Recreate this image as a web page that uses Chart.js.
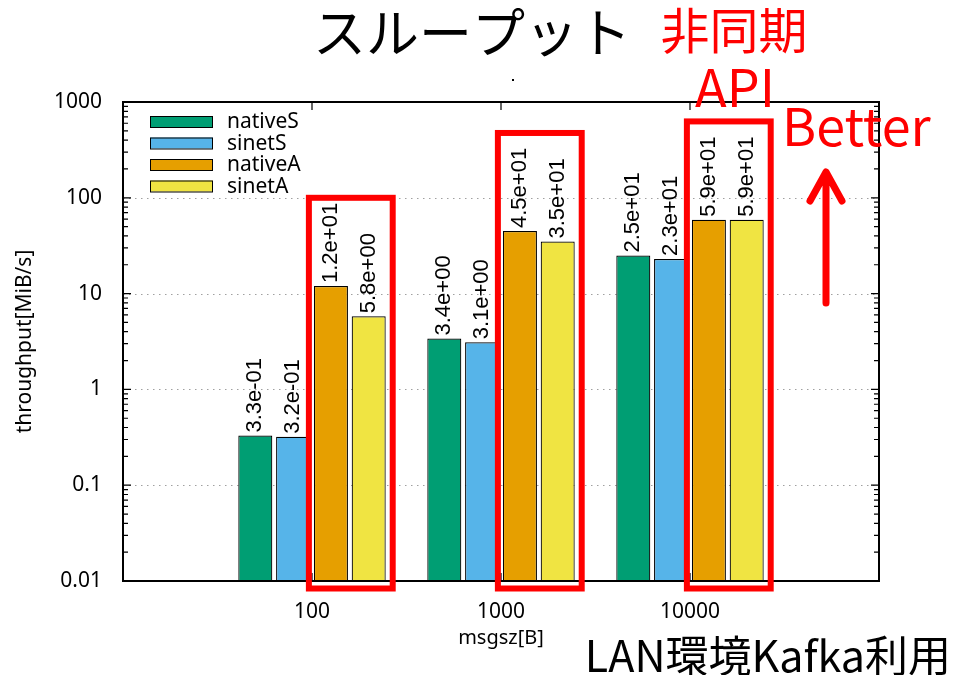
<!DOCTYPE html>
<html><head><meta charset="utf-8">
<script src="https://cdn.jsdelivr.net/npm/chart.js@4"></script>
<style>html,body{margin:0;padding:0;background:#fff}#wrap{width:960px;height:675px}</style>
</head><body><div id="wrap"><canvas id="c" width="960" height="675"></canvas></div>
<script>
// ---- data ----
const categories = ['', '100', '1000', '10000', ''];
const seriesNames = ['nativeS', 'sinetS', 'nativeA', 'sinetA'];
const nativeS = [null, 0.33, 3.4, 25, null];
const sinetS  = [null, 0.32, 3.1, 23, null];
const nativeA = [null, 12, 45, 59, null];
const sinetA  = [null, 5.8, 35, 59, null];
const yTickValues = [0.01, 0.1, 1, 10, 100, 1000];
const highlightTopValues = [null, 100, 475, 627, null]; // red box tops (value units)

const colors = ['#009e73', '#56b4e9', '#e69f00', '#f0e442'];
const seriesData = [nativeS, sinetS, nativeA, sinetA];

function fmtExp(v) {
  const s = v.toExponential(1).split('e');
  let e = parseInt(s[1], 10);
  const sign = e < 0 ? '-' : '+';
  e = Math.abs(e);
  return s[0] + 'e' + sign + (e < 10 ? '0' + e : String(e));
}

Chart.defaults.font.family = "'Noto Sans', sans-serif";
Chart.defaults.color = '#000';

const decor = {
  id: 'decor',
  beforeDatasetsDraw(chart) {
    const {ctx, chartArea: a, scales: {y}} = chart;
    ctx.save();
    ctx.strokeStyle = '#a0a0a0';
    ctx.lineWidth = 1;
    ctx.setLineDash([1.5, 4.5]);
    yTickValues.slice(1, -1).forEach(v => {
      const py = Math.round(y.getPixelForValue(v)) + 0.5;
      ctx.beginPath(); ctx.moveTo(a.left, py); ctx.lineTo(a.right, py); ctx.stroke();
    });
    ctx.restore();
  },
  afterDatasetsDraw(chart) {
    const {ctx, chartArea: a, scales: {x, y}} = chart;
    ctx.save();
    // frame
    ctx.strokeStyle = '#000'; ctx.lineWidth = 2; ctx.setLineDash([]);
    ctx.strokeRect(a.left, a.top, a.right - a.left, a.bottom - a.top);
    // y ticks major and minor
    ctx.lineWidth = 1.2;
    ctx.beginPath();
    for (let d = 0; d < yTickValues.length; d++) {
      const base = yTickValues[d];
      const py = y.getPixelForValue(base);
      ctx.moveTo(a.left, py); ctx.lineTo(a.left + 8, py);
      ctx.moveTo(a.right, py); ctx.lineTo(a.right - 8, py);
      if (d < yTickValues.length - 1) {
        for (let m = 2; m <= 9; m++) {
          const pm = y.getPixelForValue(base * m);
          ctx.moveTo(a.left, pm); ctx.lineTo(a.left + 5, pm);
          ctx.moveTo(a.right, pm); ctx.lineTo(a.right - 5, pm);
        }
      }
    }
    categories.forEach((c, i) => {
      if (!c) return;
      const px = x.getPixelForValue(i);
      ctx.moveTo(px, a.bottom); ctx.lineTo(px, a.bottom - 8);
      ctx.moveTo(px, a.top); ctx.lineTo(px, a.top + 8);
    });
    ctx.stroke();

    // bar value labels
    ctx.fillStyle = '#000';
    ctx.font = "22px 'Liberation Sans', Arial, sans-serif";
    ctx.textAlign = 'left'; ctx.textBaseline = 'middle';
    chart.data.datasets.forEach((ds, di) => {
      const meta = chart.getDatasetMeta(di);
      meta.data.forEach((el, i) => {
        const v = ds.data[i];
        if (v == null) return;
        ctx.save();
        ctx.translate(el.x, el.y - 3);
        ctx.rotate(-Math.PI / 2);
        ctx.fillText(fmtExp(v), 0, 0);
        ctx.restore();
      });
    });

    // legend
    const lx = a.left + 27, ly0 = a.top + 19.5, step = 21.5;
    ctx.font = "21px 'Noto Sans', sans-serif";
    chart.data.datasets.forEach((ds, di) => {
      const cy = ly0 + di * step;
      ctx.fillStyle = ds.backgroundColor;
      ctx.fillRect(lx, cy - 5.5, 63, 11);
      ctx.strokeStyle = '#000'; ctx.lineWidth = 1;
      ctx.strokeRect(lx + 0.5, cy - 5, 62, 11);
      ctx.fillStyle = '#000';
      ctx.textAlign = 'left'; ctx.textBaseline = 'middle';
      ctx.fillText(ds.label, lx + 77, cy + 1);
    });

    // red highlight boxes
    ctx.strokeStyle = '#ff0000'; ctx.lineWidth = 6; ctx.lineJoin = 'miter';
    const mA = chart.getDatasetMeta(2), mB = chart.getDatasetMeta(3);
    highlightTopValues.forEach((tv, i) => {
      if (tv == null) return;
      const ea = mA.data[i], eb = mB.data[i];
      const left = ea.x - ea.width / 2 - 5;
      const right = eb.x + eb.width / 2 + 7;
      const top = y.getPixelForValue(tv);
      const bottom = a.bottom + 7.5;
      ctx.strokeRect(left, top, right - left, bottom - top);
    });
    ctx.restore();
  },
  afterDraw(chart) {
    const {ctx} = chart;
    ctx.save();
    const cjk = "'Noto Sans CJK JP', 'Noto Sans', sans-serif";
    ctx.textBaseline = 'middle';
    ctx.fillStyle = '#000';
    ctx.textAlign = 'center';
    ctx.font = '53px ' + cjk;
    ctx.fillText('スループット', 472, 33);
    ctx.fillStyle = '#ff0000';
    ctx.font = '49px ' + cjk;
    ctx.fillText('非同期', 734, 30);
    ctx.font = '52px ' + cjk;
    ctx.fillText('API', 735, 87);
    ctx.textAlign = 'left';
    ctx.fillText('Better', 782, 126);
    ctx.fillStyle = '#000';
    ctx.font = '43px ' + cjk;
    ctx.textAlign = 'right';
    ctx.fillText('LAN環境Kafka利用', 951, 656);
    ctx.fillRect(512, 79, 2, 2);
    // arrow
    ctx.strokeStyle = '#ff0000'; ctx.lineWidth = 7; ctx.lineCap = 'round'; ctx.lineJoin = 'round';
    ctx.beginPath();
    ctx.moveTo(826, 303); ctx.lineTo(826, 174);
    ctx.moveTo(810, 201); ctx.lineTo(826, 172); ctx.lineTo(842, 201);
    ctx.stroke();
    ctx.restore();
  }
};

new Chart(document.getElementById('c'), {
  type: 'bar',
  data: {
    labels: categories,
    datasets: seriesNames.map((n, i) => ({
      label: n,
      data: seriesData[i],
      backgroundColor: colors[i],
      borderColor: '#000',
      borderWidth: 1.2,
      categoryPercentage: 0.8,
      barPercentage: 0.9
    }))
  },
  options: {
    responsive: false,
    animation: false,
    devicePixelRatio: 1,
    layout: {padding: {left: 0, top: 102, right: 81, bottom: 0}},
    plugins: {legend: {display: false}, tooltip: {enabled: false}, title: {display: false}},
    scales: {
      x: {
        type: 'category',
        offset: false,
        grid: {display: false},
        border: {display: false},
        ticks: {autoSkip: false, maxRotation: 0, font: {size: 21}, padding: 10, color: '#000'},
        title: {display: true, text: 'msgsz[B]', font: {size: 20}, padding: {top: 0, bottom: 25}, color: '#000'},
        afterFit(s) { s.height = 94; }
      },
      y: {
        type: 'logarithmic',
        min: 0.01,
        max: 1000,
        grid: {display: false},
        border: {display: false},
        afterBuildTicks(s) { s.ticks = yTickValues.map(v => ({value: v})); },
        ticks: {font: {size: 21}, padding: 13, color: '#000', callback: v => String(v)},
        title: {display: true, text: 'throughput[MiB/s]', font: {size: 21}, padding: {top: 12, bottom: 0}, color: '#000'},
        afterFit(s) { s.width = 123; }
      }
    }
  },
  plugins: [decor]
});
</script></body></html>
